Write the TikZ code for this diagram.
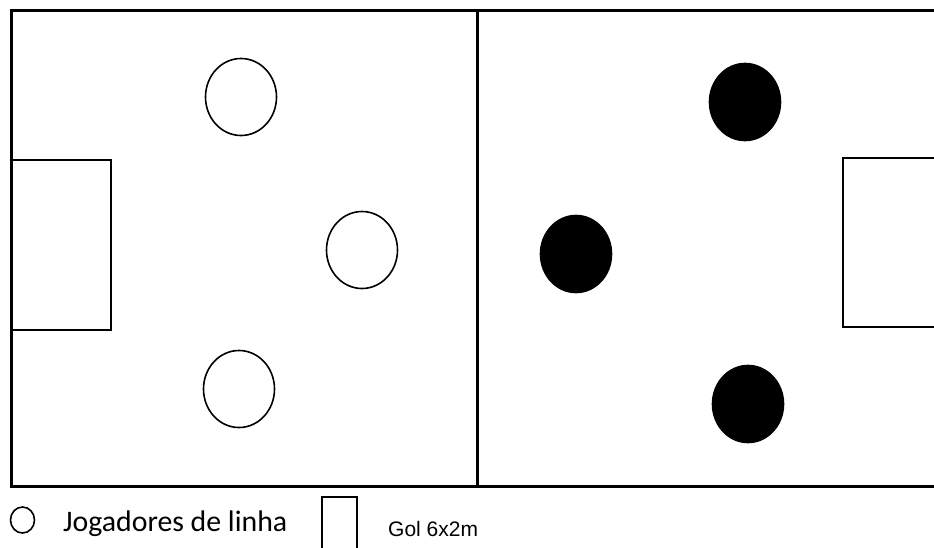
\documentclass[tikz,border=0pt]{standalone}
\usepackage{fontspec}
\usetikzlibrary{shapes.geometric}
\newfontfamily\calib{Carlito}
\newfontfamily\arialf{Liberation Sans}
\begin{document}
\begin{tikzpicture}[x=1pt,y=-1pt,
  border/.style={line width=3pt,draw=black},
  player/.style={ellipse,draw=black,line width=1.6pt,inner sep=0pt,minimum width=71pt,minimum height=77pt},
  white player/.style={player,fill=white},
  black player/.style={player,fill=black},
  goalbox/.style={line width=2.2pt,draw=black}]
\useasboundingbox (0,0) rectangle (934,547);
\fill[white] (0,0) rectangle (934,547);
% field
\draw[border] (940,10) -- (11,10) -- (11,486) -- (940,486);
\draw[border] (477,10) -- (477,486);
% goals
\draw[goalbox] (11,160) rectangle (111,330);
\draw[goalbox] (940,158) -- (843,158) -- (843,327) -- (940,327);
% players
\node[white player] (w1) at (241,97) {};
\node[white player] (w2) at (362,250) {};
\node[white player] (w3) at (239,389) {};
\node[black player] (b1) at (745,102) {};
\node[black player] (b2) at (576,254) {};
\node[black player] (b3) at (748,404) {};
% legend
\node[ellipse,draw=black,line width=1.6pt,inner sep=0pt,minimum width=24pt,minimum height=26pt] (lc) at (22.5,520) {};
\node[anchor=base west,inner sep=0pt,font=\calib\fontsize{29.8}{31}\selectfont] (lt) at (63,531) {Jogadores de linha};
\draw[goalbox] (322,550) -- (322,497) -- (357,497) -- (357,550);
\node[anchor=base west,inner sep=0pt,font=\arialf\fontsize{21}{22}\selectfont] (gt) at (388,536) {Gol 6x2m};
\end{tikzpicture}
\end{document}
